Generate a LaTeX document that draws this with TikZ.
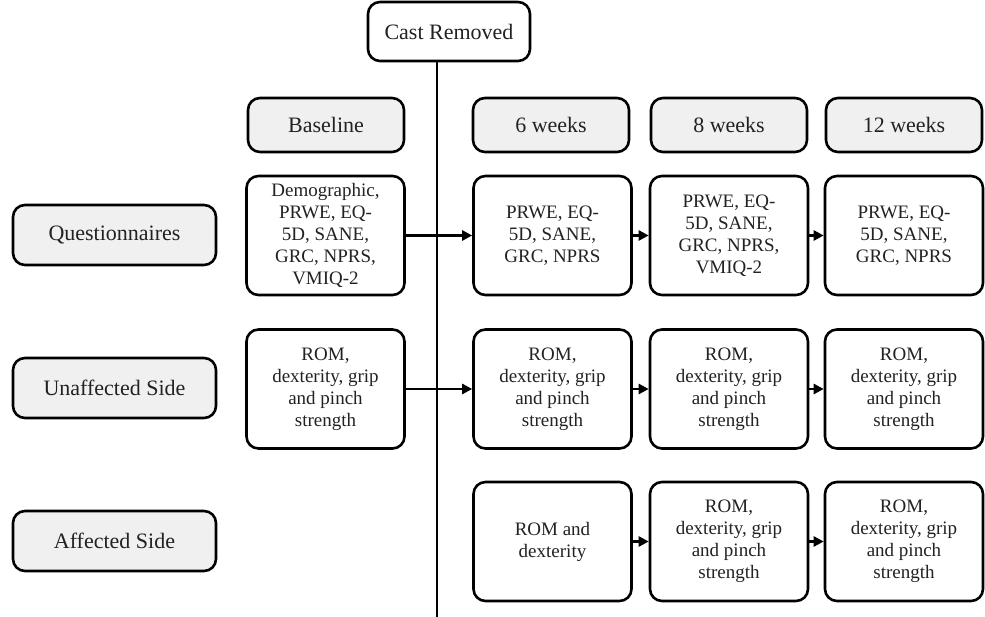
\documentclass[tikz,border=0pt]{standalone}
\usepackage{fontspec}
\setmainfont{Liberation Serif}
\usetikzlibrary{arrows.meta}
\definecolor{labgrey}{HTML}{F0F0F0}
\definecolor{txt}{HTML}{222222}
\begin{document}
\begin{tikzpicture}[x=1pt,y=-1pt,
  base/.style={draw=black,line width=2.6pt,rounded corners=12pt,inner sep=0pt,align=center,text=txt},
  header/.style={base,fill=labgrey,minimum width=156pt,minimum height=54pt,font=\fontsize{22}{26}\selectfont},
  rowlab/.style={base,fill=labgrey,minimum width=203pt,minimum height=60pt,font=\fontsize{22}{26}\selectfont},
  cell/.style={base,fill=white,minimum width=158pt,minimum height=119pt,font=\fontsize{19}{22}\selectfont},
  castbox/.style={base,fill=white,minimum width=162pt,minimum height=59pt,font=\fontsize{22}{26}\selectfont},
  flow/.style={line width=2.4pt,-{Triangle[length=10pt,width=10pt]}},
  axis/.style={line width=2.4pt}
]
\useasboundingbox (0,0) rectangle (985,617);
% vertical time line
\coordinate (bot) at (437,617);
\node[castbox] (cast) at (449,31.5) {Cast Removed};
\draw[axis] (cast.south -| bot) -- (bot);
% headers
\node[header] (hb) at (326,125) {Baseline};
\node[header] (h6) at (551,125) {6 weeks};
\node[header] (h8) at (729,125) {8 weeks};
\node[header] (h12) at (904,125) {12 weeks};
% row labels
\node[rowlab] (lq) at (114.5,235) {Questionnaires};
\node[rowlab] (lu) at (114.5,388) {Unaffected Side};
\node[rowlab] (la) at (114.5,541) {Affected Side};
% row 1
\node[cell] (q0) at (325.5,235.5) {Demographic,\\PRWE, EQ-\\5D, SANE,\\GRC, NPRS,\\VMIQ-2};
\node[cell] (q6) at (552.5,235.5) {PRWE, EQ-\\5D, SANE,\\GRC, NPRS};
\node[cell] (q8) at (729,235.5) {PRWE, EQ-\\5D, SANE,\\GRC, NPRS,\\VMIQ-2};
\node[cell] (q12) at (904,235.5) {PRWE, EQ-\\5D, SANE,\\GRC, NPRS};
% row 2
\node[cell] (u0) at (325.5,389) {ROM,\\dexterity, grip\\and pinch\\strength};
\node[cell] (u6) at (552.5,389) {ROM,\\dexterity, grip\\and pinch\\strength};
\node[cell] (u8) at (729,389) {ROM,\\dexterity, grip\\and pinch\\strength};
\node[cell] (u12) at (904,389) {ROM,\\dexterity, grip\\and pinch\\strength};
% row 3
\node[cell] (a6) at (552.5,541.5) {ROM and\\dexterity};
\node[cell] (a8) at (729,541.5) {ROM,\\dexterity, grip\\and pinch\\strength};
\node[cell] (a12) at (904,541.5) {ROM,\\dexterity, grip\\and pinch\\strength};
% arrows
\draw[flow] (q0) -- (q6);
\draw[flow] (q6) -- (q8);
\draw[flow] (q8) -- (q12);
\draw[flow] (u0) -- (u6);
\draw[flow] (u6) -- (u8);
\draw[flow] (u8) -- (u12);
\draw[flow] (a6) -- (a8);
\draw[flow] (a8) -- (a12);
\end{tikzpicture}
\end{document}
